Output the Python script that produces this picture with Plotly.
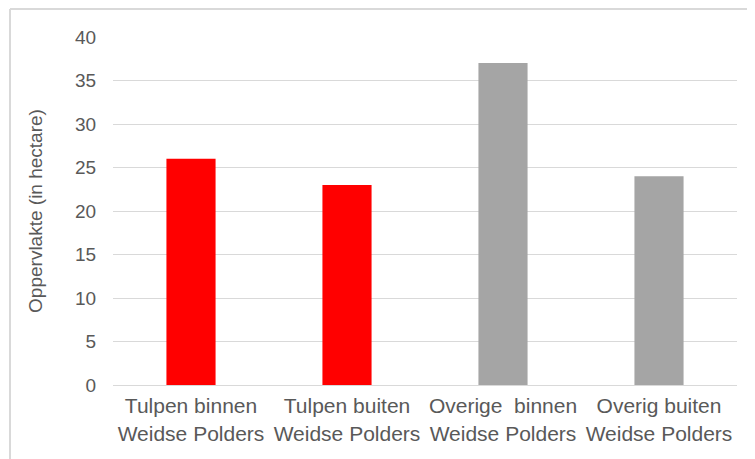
import plotly.graph_objects as go

categories = [
    "Tulpen binnen<br>Weidse Polders",
    "Tulpen buiten<br>Weidse Polders",
    "Overige  binnen<br>Weidse Polders",
    "Overig buiten<br>Weidse Polders",
]
values = [26, 23, 37, 24]
bar_colors = ["#ff0000", "#ff0000", "#a5a5a5", "#a5a5a5"]

text_color = "#595959"
grid_color = "#d9d9d9"

fig = go.Figure()

fig.add_trace(go.Bar(
    x=categories,
    y=values,
    marker=dict(color=bar_colors, line=dict(width=0)),
))

# page body has an 8px margin, so the figure is shifted; compensate here
fig.update_layout(
    width=747,
    height=451,
    paper_bgcolor="white",
    plot_bgcolor="white",
    showlegend=False,
    bargap=0.685,
    margin=dict(l=105, r=18, t=29, b=74),
    font=dict(family="Liberation Sans, Arial, sans-serif", color=text_color, size=19),
    xaxis=dict(
        showgrid=False,
        showline=True,
        linecolor=grid_color,
        linewidth=1,
        tickfont=dict(size=21, color=text_color),
        ticks="outside",
        ticklen=2,
        tickcolor="rgba(0,0,0,0)",
    ),
    yaxis=dict(
        range=[0, 40],
        dtick=5,
        showgrid=True,
        gridcolor=grid_color,
        gridwidth=1,
        zeroline=False,
        showline=False,
        ticks="outside",
        ticklen=12,
        tickcolor="rgba(0,0,0,0)",
        tickfont=dict(size=19, color=text_color),
        title=dict(text="Oppervlakte (in hectare)", font=dict(size=19, color=text_color), standoff=27),
    ),
)

# outer chart-area border (only top and left edges visible in the crop)
bx = (10 - 113) / 624
by = (385 - 9) / 348
fig.add_shape(type="line", xref="paper", yref="paper",
              x0=bx, x1=1.1, y0=by, y1=by,
              line=dict(color=grid_color, width=2))
fig.add_shape(type="line", xref="paper", yref="paper",
              x0=bx, x1=bx, y0=by, y1=-0.25,
              line=dict(color=grid_color, width=2))

fig.write_html("out.html")
